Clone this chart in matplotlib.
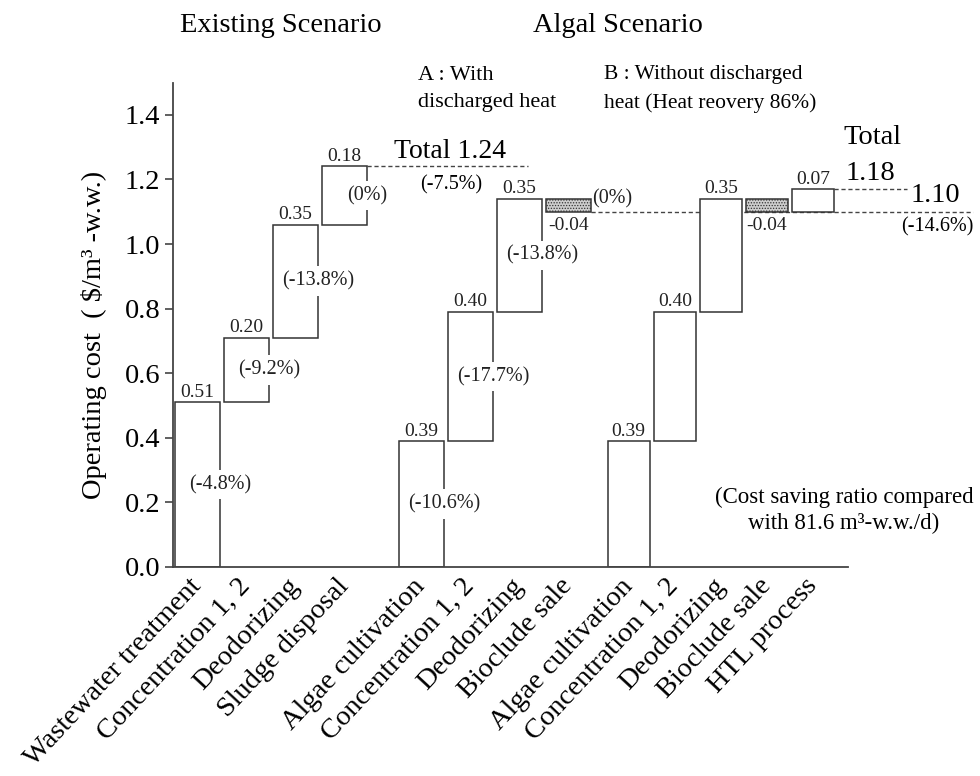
import matplotlib
matplotlib.use("Agg")
import matplotlib.pyplot as plt

# ---------------- data ----------------
existing_labels = ["Wastewater treatment", "Concentration 1, 2", "Deodorizing", "Sludge disposal"]
existing_values = [0.51, 0.20, 0.35, 0.18]
existing_pct = ["(-4.8%)", "(-9.2%)", "(-13.8%)", "(0%)"]

algal_a_labels = ["Algae cultivation", "Concentration 1, 2", "Deodorizing", "Bioclude sale"]
algal_a_values = [0.39, 0.40, 0.35, -0.04]
algal_a_pct = ["(-10.6%)", "(-17.7%)", "(-13.8%)", "(0%)"]

algal_b_labels = ["Algae cultivation", "Concentration 1, 2", "Deodorizing", "Bioclude sale", "HTL process"]
algal_b_values = [0.39, 0.40, 0.35, -0.04, 0.07]

yticks = [0.0, 0.2, 0.4, 0.6, 0.8, 1.0, 1.2, 1.4]
total_existing_text = "Total 1.24"
total_a_pct = "(-7.5%)"
total_b_text = "1.18"
total_b_net_text = "1.10"
total_b_pct = "(-14.6%)"

# ---------------- layout ----------------
W, H = 980, 776
FONT = ["Liberation Serif", "DejaVu Serif"]
plt.rcParams["font.family"] = FONT
plt.rcParams["hatch.linewidth"] = 0.6
LC = "#333333"

fig = plt.figure(figsize=(W / 100, H / 100), dpi=100)
ax_l, ax_r, ax_b, ax_t = 173, 848, 567, 82.5
ax = fig.add_axes([ax_l / W, 1 - ax_b / H, (ax_r - ax_l) / W, (ax_b - ax_t) / H])
unit = 49.0
ax.set_xlim(0, (ax_r - ax_l) / unit)
ax.set_ylim(0, 1.5)


def px(x, y):
    return x / W, 1 - y / H


def xdata(xp):
    return (xp - ax_l) / unit


groups = [
    (existing_labels, existing_values, existing_pct, 0.5, 1.0),
    (algal_a_labels, algal_a_values, algal_a_pct, 5.07, 1.0),
    (algal_b_labels, algal_b_values, None, 9.3, 0.94),
]

VAL_FS = 14
PCT_FS = 14.5

all_pos, all_labels = [], []
group_ends = []
for labels, values, pcts, start, step in groups:
    cum = 0.0
    width = 0.92 * step
    for i, (lab, v) in enumerate(zip(labels, values)):
        x = start + i * step
        all_pos.append(x)
        all_labels.append(lab)
        neg = v < 0
        ax.bar(x, v, bottom=cum, width=width,
               facecolor="#cdcdcd" if neg else "white",
               edgecolor=LC, linewidth=1.1,
               hatch="......" if neg else None, zorder=2)
        top = cum + v
        if neg:
            ax.annotate(f"{v:.2f}", xy=(x, top), xytext=(0, -4), textcoords="offset points",
                        ha="center", va="top", fontsize=VAL_FS, color="#222")
        else:
            ax.annotate(f"{v:.2f}", xy=(x, top), xytext=(0, 1), textcoords="offset points",
                        ha="center", va="bottom", fontsize=VAL_FS, color="#222")
        if pcts is not None:
            if neg:
                ax.annotate(pcts[i], xy=(x + width / 2, cum), xytext=(1, 0),
                            textcoords="offset points", ha="left", va="center",
                            fontsize=PCT_FS, color="#222")
            else:
                ax.text(x + width / 2, cum + v / 2, pcts[i], ha="center", va="center",
                        fontsize=PCT_FS, color="#222", zorder=4,
                        bbox=dict(boxstyle="square,pad=0.25", fc="white", ec="none"))
        cum = top
    group_ends.append((start + (len(values) - 1) * step + width / 2, cum))

# dashed total lines
dash = dict(color="#444444", lw=1.0, ls=(0, (3, 2)), clip_on=False, zorder=1)
ax.plot([group_ends[0][0], xdata(528)], [group_ends[0][1]] * 2, **dash)
ax.plot([group_ends[1][0], xdata(973)], [group_ends[1][1]] * 2, **dash)
ax.plot([group_ends[2][0], xdata(907)], [group_ends[2][1]] * 2, **dash)

# axes styling
for s in ["top", "right"]:
    ax.spines[s].set_visible(False)
for s in ["left", "bottom"]:
    ax.spines[s].set_color("#444444")
    ax.spines[s].set_linewidth(1.3)
ax.set_yticks(yticks)
ax.set_yticklabels([f"{t:.1f}" for t in yticks])
ax.tick_params(axis="y", direction="out", length=6, width=1.2, color="#444444",
               labelsize=20.5, pad=3)
ax.set_xticks(all_pos)
ax.set_xticklabels(all_labels, rotation=47, ha="right", va="center",
                   rotation_mode="anchor", fontsize=20.5)
ax.tick_params(axis="x", length=0, pad=11)
ax.set_ylabel("Operating cost  ( $/m³ -w.w.)", fontsize=20.5, labelpad=13, y=0.479)

# annotations
fig.text(*px(180, 25), "Existing Scenario", fontsize=20.5, ha="left", va="center")
fig.text(*px(533, 25), "Algal Scenario", fontsize=20.5, ha="left", va="center")
fig.text(*px(418, 75), "A : With", fontsize=16, ha="left", va="center")
fig.text(*px(418, 103), "discharged heat", fontsize=16, ha="left", va="center")
fig.text(*px(604, 75), "B : Without discharged", fontsize=15.5, ha="left", va="center")
fig.text(*px(604, 103), "heat (Heat reovery 86%)", fontsize=15.5, ha="left", va="center")
fig.text(*px(450, 152), total_existing_text, fontsize=20, ha="center", va="center")
fig.text(*px(451, 185), total_a_pct, fontsize=PCT_FS, ha="center", va="center")
fig.text(*px(872, 137), "Total", fontsize=20.5, ha="center", va="center")
fig.text(*px(870, 173), total_b_text, fontsize=20.5, ha="center", va="center")
fig.text(*px(935, 195), total_b_net_text, fontsize=20.5, ha="center", va="center")
fig.text(*px(937, 227), total_b_pct, fontsize=PCT_FS, ha="center", va="center")
fig.text(*px(844, 497), "(Cost saving ratio compared", fontsize=16.5, ha="center", va="center")
fig.text(*px(844, 523), "with 81.6 m³-w.w./d)", fontsize=16.5, ha="center", va="center")

fig.savefig("out.png", dpi=100, facecolor="white")
